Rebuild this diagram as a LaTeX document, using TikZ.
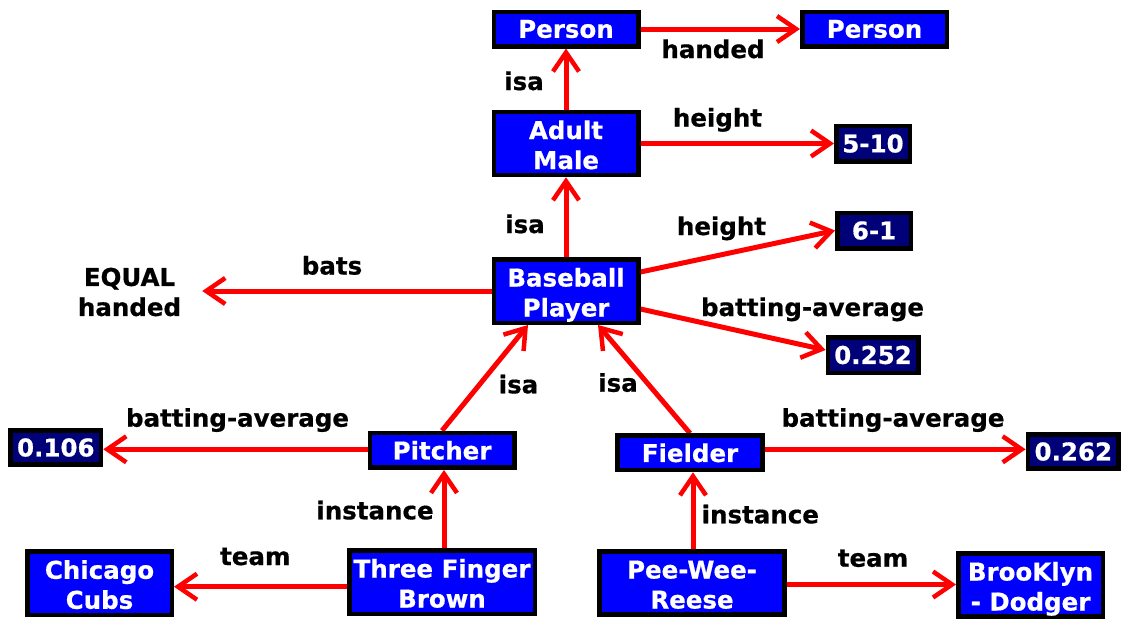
\documentclass[tikz,border=0pt]{standalone}
\usepackage{fontspec}
\setmainfont{DejaVu Sans}[BoldFeatures={FakeBold=0.6}]
\usetikzlibrary{arrows.meta}
\definecolor{boxblue}{RGB}{0,0,255}
\definecolor{valnavy}{RGB}{0,0,120}
\pgfdeclarelayer{background}
\pgfsetlayers{background,main}
\newcommand\mytwo[2]{\rule{0pt}{27pt}#1\\#2\rule[-6pt]{0pt}{6pt}}
\tikzset{
  concept/.style={draw=black, line width=4.5pt, fill=boxblue, text=white,
    font=\bfseries\fontsize{24.5}{30}\selectfont, align=center, inner sep=0pt},
  value/.style={concept, fill=valnavy},
  lbl/.style={font=\bfseries\fontsize{24.5}{30}\selectfont, text=black, anchor=base, inner sep=0pt},
  arr/.style={draw=red, line width=5pt,
    -{Straight Barb[length=19pt,width=26pt,line width=4.5pt]}},
}
\begin{document}
\begin{tikzpicture}[x=1pt,y=-1pt]
\useasboundingbox (0,0) rectangle (1127,625);
% concept nodes
\node[concept, minimum width=144.5pt, minimum height=34.5pt] (p1) at (566,29) {Person};
\node[concept, minimum width=144.5pt, minimum height=34.5pt] (p2) at (874.5,29) {Person};
\node[concept, minimum width=144.5pt, minimum height=62.5pt] (am) at (566,143.5) {\mytwo{Adult}{Male}};
\node[concept, minimum width=144.5pt, minimum height=63.5pt] (bp) at (566,291) {\mytwo{Baseball}{Player}};
\node[concept, minimum width=144.5pt, minimum height=34.8pt] (pitcher) at (442,450.3) {Pitcher};
\node[concept, minimum width=145pt, minimum height=34.5pt] (fielder) at (690,452.8) {Fielder};
\node[concept, minimum width=185.5pt, minimum height=63.5pt] (tfb) at (442,582) {\mytwo{Three Finger}{Brown}};
\node[concept, minimum width=185pt, minimum height=62.5pt] (pwr) at (692,583) {\mytwo{Pee-Wee-}{Reese}};
\node[concept, minimum width=144.5pt, minimum height=63.5pt] (cc) at (99.5,583.3) {\mytwo{Chicago}{Cubs}};
\node[concept, minimum width=144.5pt, minimum height=62.2pt] (bd) at (1030.5,585) {\mytwo{BrooKlyn}{- Dodger}};
% value nodes
\node[value, minimum width=73.5pt, minimum height=35.5pt] (v510) at (873,143.5) {5-10};
\node[value, minimum width=73.5pt, minimum height=35.5pt] (v61) at (874,230.5) {6-1};
\node[value, minimum width=90.5pt, minimum height=35.5pt] (v0252) at (873,355) {0.252};
\node[value, minimum width=90.5pt, minimum height=33.8pt] (v0106) at (55.8,447.5) {0.106};
\node[value, minimum width=90.8pt, minimum height=33.8pt] (v0262) at (1073.3,451.5) {0.262};
\node[font=\bfseries\fontsize{24.5}{30}\selectfont, align=center, inner sep=0pt] (eq) at (129.5,292) {EQUAL\\handed};
% connectors
\begin{pgfonlayer}{background}
\draw[arr] (p1.east) -- (p2.west);
\draw[arr] (am.north) -- (p1.south);
\draw[arr] (am.east) -- (v510.west);
\draw[arr] (bp.north) -- (am.south);
\draw[arr] ([yshift=19pt]bp.east) -- (v61.west);
\draw[arr] ([yshift=-18pt]bp.east) -- ([yshift=5pt]v0252.west);
\draw[arr] (bp.west) -- ([xshift=21pt]bp.west -| eq.east);
\draw[arr] (pitcher.north) -- ([xshift=-38pt]bp.south);
\draw[arr] (fielder.north) -- ([xshift=32pt]bp.south);
\draw[arr] ([yshift=1pt]pitcher.west) -- ([yshift=-1.8pt]v0106.east);
\draw[arr] ([yshift=3.5pt]fielder.east) -- ([yshift=2.2pt]v0262.west);
\draw[arr] ([xshift=2pt]tfb.north) -- ([xshift=2pt]tfb.north |- pitcher.south);
\draw[arr] ([yshift=-4.7pt]tfb.west) -- ([yshift=-3.4pt]cc.east);
\draw[arr] ([xshift=1pt]pwr.north) -- ([xshift=1pt]pwr.north |- fielder.south);
\draw[arr] ([yshift=-1.5pt]pwr.east) -- ([yshift=0.5pt]bd.west);
\end{pgfonlayer}
% labels
\node[lbl] (l1) at (713,58) {handed};
\node[lbl] (l2) at (524,90) {isa};
\node[lbl] (l3) at (717.5,126.5) {height};
\node[lbl] (l4) at (525,233) {isa};
\node[lbl] (l5) at (721.5,235) {height};
\node[lbl] (l6) at (812.5,316) {batting-average};
\node[lbl] (l7) at (332,274.5) {bats};
\node[lbl] (l8) at (518.5,393.3) {isa};
\node[lbl] (l9) at (618,391.7) {isa};
\node[lbl] (l10) at (237.5,426.7) {batting-average};
\node[lbl] (l11) at (375,519.3) {instance};
\node[lbl] (l12) at (255.3,565) {team};
\node[lbl] (l13) at (893,426.7) {batting-average};
\node[lbl] (l14) at (760.3,523.3) {instance};
\node[lbl] (l15) at (873,566.7) {team};
\end{tikzpicture}
\end{document}
